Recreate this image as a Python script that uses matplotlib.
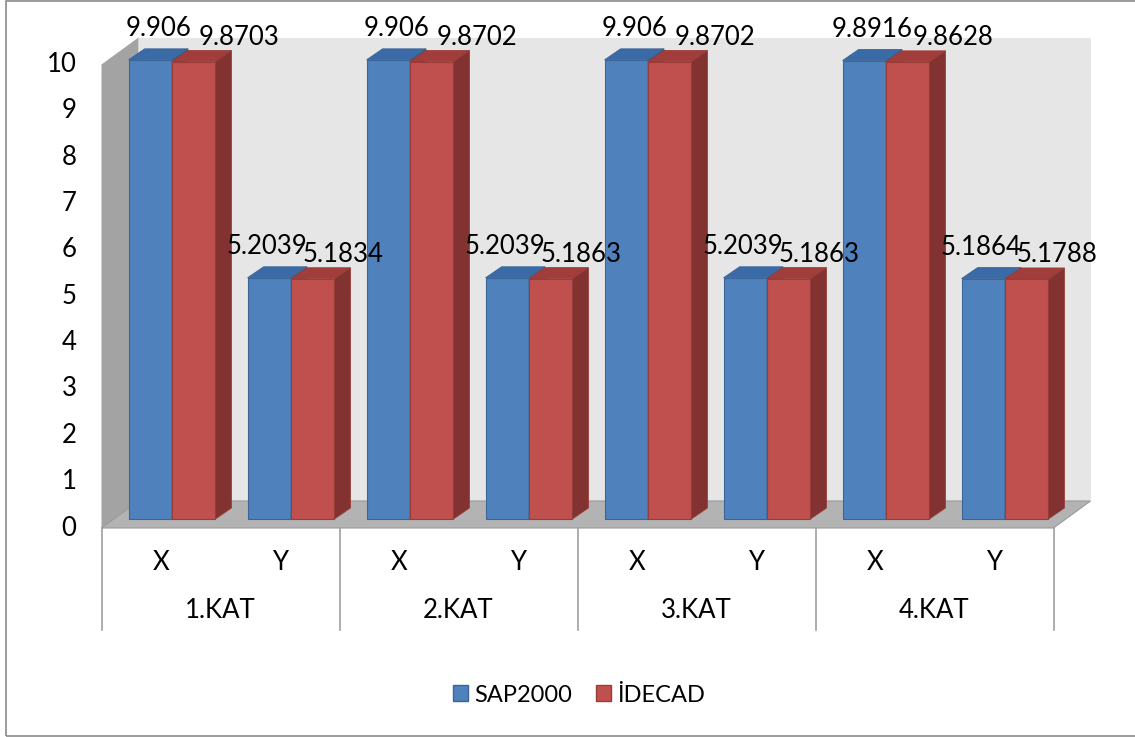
import matplotlib
matplotlib.use('Agg')
import matplotlib.pyplot as plt
import numpy as np
from matplotlib.patches import Polygon, Rectangle, Patch
from matplotlib.transforms import ScaledTranslation, IdentityTransform

plt.rcParams['font.family'] = ['Lato', 'DejaVu Sans']

groups = ['1.KAT', '2.KAT', '3.KAT', '4.KAT']
directions = ['X', 'Y']
sap2000 = [9.906, 5.2039, 9.906, 5.2039, 9.906, 5.2039, 9.8916, 5.1864]
idecad = [9.8703, 5.1834, 9.8702, 5.1863, 9.8702, 5.1863, 9.8628, 5.1788]
series_names = ['SAP2000', 'İDECAD']
yticks = list(range(0, 11))

W, H, DPI = 1135, 737, 100
fig = plt.figure(figsize=(W / DPI, H / DPI), dpi=DPI)
# axes = front plane of the columns
ax = fig.add_axes([112.5 / W, 218 / H, 952 / W, 463.5 / H])
n = len(groups) * len(directions)
ax.set_xlim(-0.5, n - 0.5)
ax.set_ylim(0, 10)
ax.axis('off')

# pixel offsets of the other depth planes (right, up)
FRONT = (-11, -9)
BACK = (26, 18)
DEPTH = (16, 11)
BAR_W = 0.365
FS = 18.5

blue = dict(front='#4f81bd', top='#3b6ba6', side='#2f5584', edge='#3a6596')
red = dict(front='#c0504d', top='#a13e3b', side='#823331', edge='#9a3d3a')

# horizontal label nudges (px) for the blue / red label of each direction
label_dx = {'X': (8, 45), 'Y': (-2, 30)}


def shifted(dx, dy):
    return ax.transData + ScaledTranslation(dx / DPI, dy / DPI, fig.dpi_scale_trans)


def px(x, v, off=(0, 0)):
    p = ax.transData.transform((x, v))
    return (p[0] + off[0], p[1] + off[1])


def poly(points, color, z, ec='none', lw=0.0):
    ax.add_patch(Polygon(points, closed=True, facecolor=color, edgecolor=ec,
                         linewidth=lw, transform=IdentityTransform(),
                         clip_on=False, zorder=z))


x0, x1 = -0.5, n - 0.5
# back wall
poly([px(x0, 0, BACK), px(x1, 0, BACK), px(x1, 10, BACK), px(x0, 10, BACK)], '#e6e6e6', 1)
# left wall
poly([px(x0, 0, FRONT), px(x0, 10, FRONT), px(x0, 10, BACK), px(x0, 0, BACK)], '#a3a3a3', 2)
# floor
poly([px(x0, 0, FRONT), px(x1, 0, FRONT), px(x1, 0, BACK), px(x0, 0, BACK)], '#b3b3b3', 3,
     ec='#9a9a9a', lw=0.8)

# columns, drawn left to right so each front face hides the previous side face
z = 10
for i in range(n):
    for k, (vals, c) in enumerate([(sap2000, blue), (idecad, red)]):
        v = vals[i]
        xl = i - BAR_W if k == 0 else i
        xr = xl + BAR_W
        ax.bar(xl, v, BAR_W, align='edge', color=c['front'], edgecolor=c['edge'],
               linewidth=0.8, zorder=z, clip_on=False)
        poly([px(xl, v), px(xr, v), px(xr, v, DEPTH), px(xl, v, DEPTH)], c['top'], z,
             ec=c['edge'], lw=0.6)
        poly([px(xr, 0), px(xr, 0, DEPTH), px(xr, v, DEPTH), px(xr, v)], c['side'], z,
             ec=c['edge'], lw=0.6)
        z += 1

# value labels
for i in range(n):
    dxb, dxr = label_dx[directions[i % 2]]
    ax.text(i - BAR_W / 2, sap2000[i], f'{sap2000[i]:g}', transform=shifted(dxb, 31),
            ha='center', va='center', fontsize=FS, zorder=50)
    ax.text(i + BAR_W / 2, idecad[i], f'{idecad[i]:g}', transform=shifted(dxr, 24),
            ha='center', va='center', fontsize=FS, zorder=50)

# value axis labels on the front plane
for t in yticks:
    ax.text(x0, t, str(t), transform=shifted(FRONT[0] - 25, FRONT[1]),
            ha='right', va='center', fontsize=FS)

# category axis: direction row, floor row and separators
for i in range(n):
    ax.text(i, 0, directions[i % 2], transform=shifted(FRONT[0], FRONT[1] - 34),
            ha='center', va='center', fontsize=FS)
for g, name in enumerate(groups):
    ax.text(2 * g + 0.5, 0, name, transform=shifted(FRONT[0], FRONT[1] - 82),
            ha='center', va='center', fontsize=FS)
for b in np.arange(len(groups) + 1) * 2 - 0.5:
    top = px(b, 0, FRONT)
    ax.plot([top[0], top[0]], [top[1], top[1] - 102], color='#a0a0a0', lw=1.2,
            transform=IdentityTransform(), clip_on=False, zorder=4)

handles = [Patch(facecolor=blue['front'], edgecolor=blue['edge'], label=series_names[0]),
           Patch(facecolor=red['front'], edgecolor=red['edge'], label=series_names[1])]
fig.legend(handles=handles, loc='center', bbox_to_anchor=(579 / W, 1 - 695 / H), ncol=2,
           frameon=False, fontsize=17, handlelength=0.65, handleheight=0.65,
           handletextpad=0.25, columnspacing=1.0)

# chart area border
fig.patches.append(Rectangle((6 / W, 1 / H), 1.0, 735 / H, transform=fig.transFigure,
                             facecolor='none', edgecolor='#8a8a8a', linewidth=1.2))

fig.savefig('out.png', dpi=DPI)
